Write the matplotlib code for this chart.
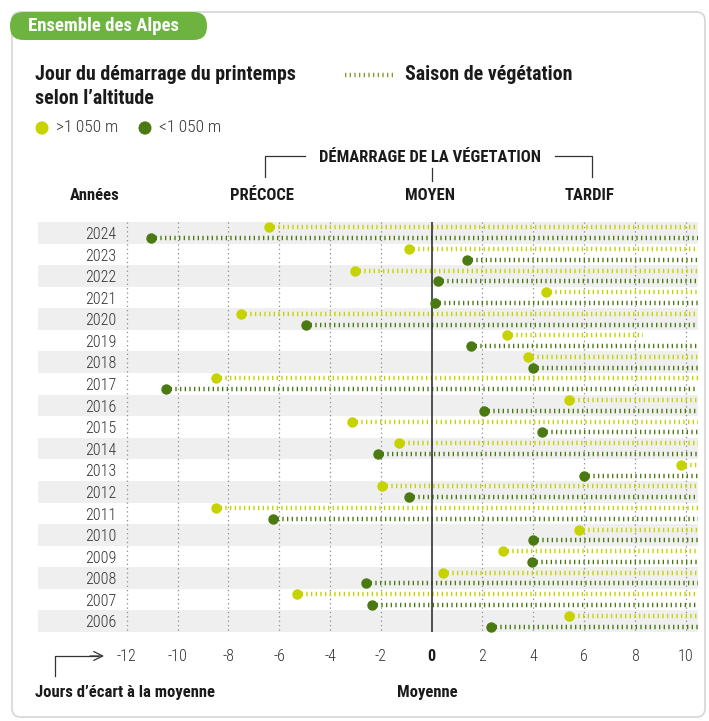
import matplotlib
matplotlib.use("Agg")
import matplotlib.pyplot as plt
from matplotlib.patches import FancyBboxPatch, Circle
from matplotlib.lines import Line2D

W, H = 709, 721
NARROW = ["Liberation Sans Narrow", "Roboto Condensed", "DejaVu Sans"]

plt.rcParams["font.family"] = NARROW

# start of spring, days from the mean, 2024 first
years = [2024, 2023, 2022, 2021, 2020, 2019, 2018, 2017, 2016, 2015,
         2014, 2013, 2012, 2011, 2010, 2009, 2008, 2007, 2006]
start_high = [-6.4, -0.9, -3.0, 4.5, -7.5, 2.95, 3.8, -8.5, 5.4, -3.15,
              -1.3, 9.8, -1.95, -8.5, 5.8, 2.8, 0.45, -5.3, 5.4]
start_low = [-11.05, 1.4, 0.25, 0.15, -4.95, 1.55, 4.0, -10.45, 2.05, 4.35,
             -2.1, 6.0, -0.9, -6.25, 4.0, 3.95, -2.6, -2.35, 2.35]
# end of the season line (most run past the right edge)
end_high = [11, 11, 11, 11, 11, 8.3, 11, 11, 11, 11,
            11, 11, 11, 11, 11, 11, 11, 11, 11]
end_low = [11, 11, 11, 11, 11, 11, 11, 11, 11, 11,
           11, 11, 11, 11, 11, 11, 11, 11, 11]
xticks = [-12, -10, -8, -6, -4, -2, 0, 2, 4, 6, 8, 10]

C_HIGH = "#c6d300"
C_LOW = "#4b7a12"
C_TAB = "#6cb43f"
C_BAND = "#efefef"
C_TXT = "#1a1a1a"
DASH = (0.3, 0.75)


def fx(px):
    return px / W


def fy(py):
    return 1 - py / H


fig = plt.figure(figsize=(W / 100, H / 100), dpi=100)
fig.patch.set_facecolor("white")

# card + tab (kept behind the axes)
fig.patches.append(FancyBboxPatch((fx(12), fy(717)), fx(693), 705 / H,
                                  boxstyle="round,pad=0,rounding_size=0.012",
                                  transform=fig.transFigure, fc="white",
                                  ec="#d6d6d6", lw=1.2, zorder=-10))
fig.patches.append(FancyBboxPatch((fx(10), fy(40)), fx(197), 28 / H,
                                  boxstyle="round,pad=0,rounding_size=0.019",
                                  transform=fig.transFigure, fc=C_TAB,
                                  ec="none", zorder=-5))
fig.text(fx(28), fy(26), "Ensemble des Alpes", color="white",
         fontsize=13.5, fontweight="bold", va="center", ha="left")

# titles and legend
fig.text(fx(35), fy(75), "Jour du démarrage du printemps", fontsize=14.3,
         fontweight="bold", va="center", color=C_TXT)
fig.text(fx(35), fy(99), "selon l\u2019altitude", fontsize=14.3,
         fontweight="bold", va="center", color=C_TXT)
fig.lines.append(Line2D([fx(345), fx(394)], [fy(75), fy(75)],
                        transform=fig.transFigure, color="#7f9c2c", lw=3.2,
                        dashes=DASH))
fig.text(fx(405), fy(74), "Saison de végétation", fontsize=14.3,
         fontweight="bold", va="center", color=C_TXT)

fig.patches.append(Circle((fx(42), fy(128)), 6.5 / W, transform=fig.transFigure,
                          fc=C_HIGH, ec="none"))
fig.text(fx(56), fy(128), ">1\u2009050 m", fontsize=12.5, va="center",
         color="#333333", fontweight="light")
fig.patches.append(Circle((fx(145), fy(128)), 6.5 / W, transform=fig.transFigure,
                          fc=C_LOW, ec="none"))
fig.text(fx(159), fy(128), "<1\u2009050 m", fontsize=12.5, va="center",
         color="#333333", fontweight="light")

# bracket over the axis
fig.text(fx(430), fy(157), "DÉMARRAGE DE LA VÉGETATION", fontsize=12,
         fontweight="bold", ha="center", va="center", color=C_TXT)
for xs, ys in [([265, 265, 305], [177, 156, 156]),
               ([555, 592, 592], [156, 156, 177]),
               ([432, 432], [168, 181])]:
    fig.lines.append(Line2D([fx(v) for v in xs], [fy(v) for v in ys],
                            transform=fig.transFigure, color="#333333", lw=0.9))
for x, s in [(95, "Années"), (262, "PRÉCOCE"), (430, "MOYEN"), (590, "TARDIF")]:
    fig.text(fx(x), fy(195), s, fontsize=12, fontweight="bold",
             ha="center", va="center", color=C_TXT)

# main chart
ax = fig.add_axes([fx(38), fy(632), fx(660), 410 / H])
ax.set_xlim(-15.49, 10.48)
ax.set_ylim(len(years) - 0.5, -0.5)
ax.patch.set_alpha(0)
for s in ax.spines.values():
    s.set_visible(False)

for i, yr in enumerate(years):
    if i % 2 == 0:
        ax.axhspan(i - 0.5, i + 0.5, color=C_BAND, lw=0, zorder=0)
    ax.text(-12.4, i + 0.08, str(yr), ha="right", va="center", fontsize=11.5,
            color="#333333", fontweight="light")

ax.vlines([t for t in xticks if t != 0], -0.5, len(years) - 0.5,
          colors="#8a8a8a", lw=0.9, linestyles=(0, (1, 2.5)), zorder=1)
ax.vlines([0], -0.5, len(years) - 0.5, colors="#333333", lw=1.2, zorder=4)

off = 0.25
for i in range(len(years)):
    ax.plot([start_high[i], end_high[i]], [i - off, i - off], color=C_HIGH,
            lw=3.2, dashes=DASH, zorder=2)
    ax.plot([start_low[i], end_low[i]], [i + off, i + off], color=C_LOW,
            lw=3.2, dashes=DASH, zorder=2)
ax.plot(start_high, [i - off for i in range(len(years))], "o", color=C_HIGH,
        ms=7.5, mew=0, zorder=5)
ax.plot(start_low, [i + off for i in range(len(years))], "o", color=C_LOW,
        ms=7.5, mew=0, zorder=5)

ax.set_xticks(xticks)
ax.set_xticklabels([str(t) for t in xticks], fontsize=11.5, color="#333333",
                   fontweight="light")
for lab, t in zip(ax.get_xticklabels(), xticks):
    if t == 0:
        lab.set_fontweight("bold")
        lab.set_color(C_TXT)
ax.tick_params(axis="x", length=0, pad=12)
ax.set_yticks([])

# bottom notes
fig.lines.append(Line2D([fx(55), fx(55), fx(98)], [fy(676), fy(656), fy(656)],
                        transform=fig.transFigure, color="#333333", lw=0.9))
ax.annotate("", xy=(fx(104), fy(656)), xytext=(fx(90), fy(656)),
            xycoords="figure fraction", textcoords="figure fraction",
            arrowprops=dict(arrowstyle="->", color="#333333", lw=0.9,
                            mutation_scale=16, shrinkA=0, shrinkB=0))
fig.text(fx(35), fy(692), "Jours d\u2019écart à la moyenne", fontsize=12,
         fontweight="bold", va="center", color=C_TXT)
fig.text(fx(427), fy(692), "Moyenne", fontsize=12, fontweight="bold",
         ha="center", va="center", color=C_TXT)

fig.savefig("out.png", dpi=100)
